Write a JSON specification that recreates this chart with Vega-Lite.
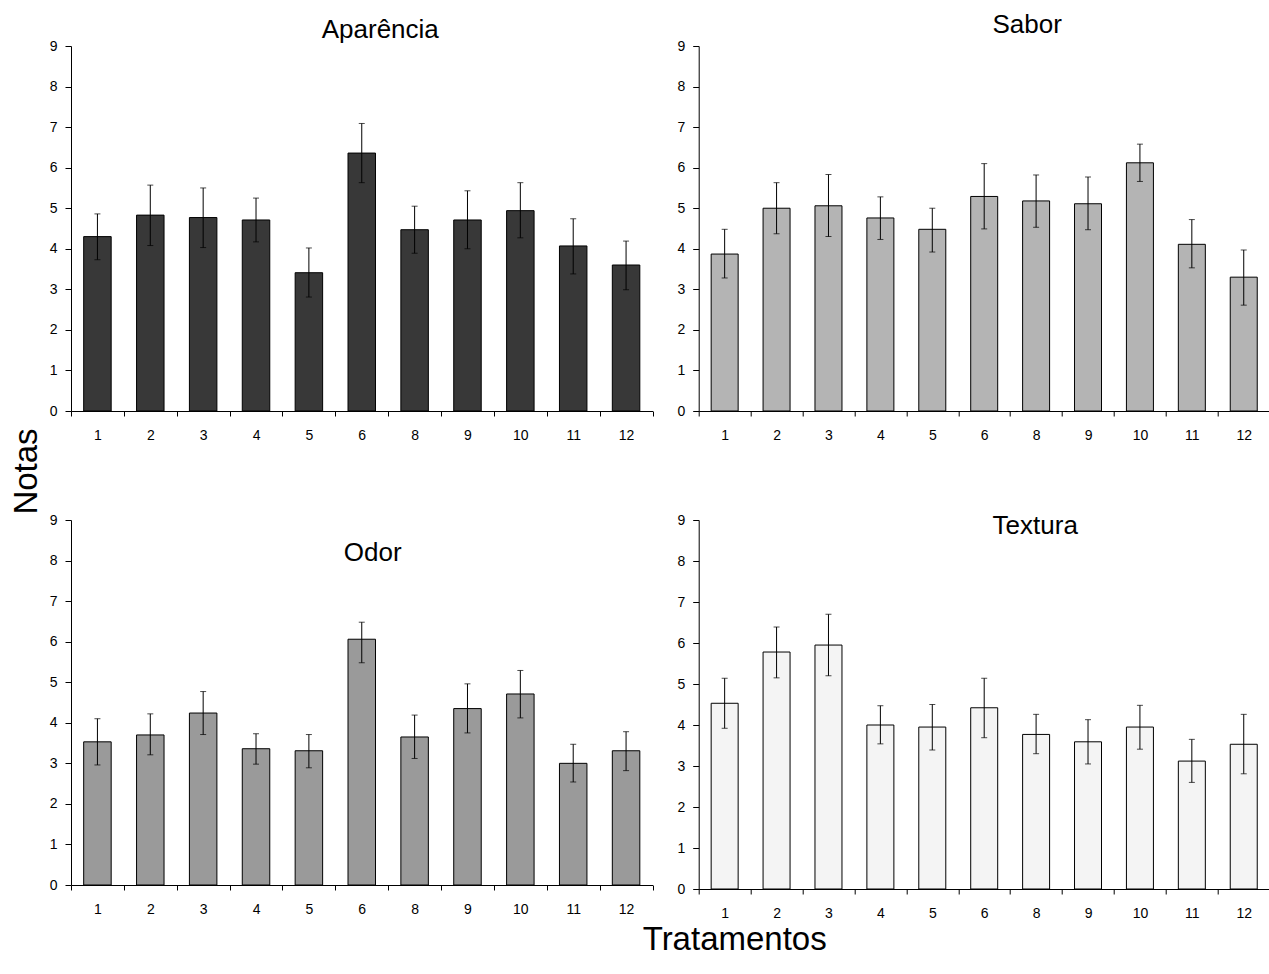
{
  "$schema": "https://vega.github.io/schema/vega-lite/v6.json",
  "padding": {"left": 10, "top": 12, "right": 0, "bottom": 0},
  "background": "white",
  "config": {
    "font": "Liberation Sans",
    "view": {"stroke": null},
    "axis": {"labelFontSize": 14, "labelColor": "black", "domainColor": "black", "tickColor": "black", "grid": false, "labelFont": "Liberation Sans"},
    "title": {"font": "Liberation Sans"}
  },
  "data": {"values": [
    {"attr": "Aparência", "trat": 1, "nota": 4.30, "lo": 3.73, "hi": 4.86},
    {"attr": "Aparência", "trat": 2, "nota": 4.83, "lo": 4.08, "hi": 5.57},
    {"attr": "Aparência", "trat": 3, "nota": 4.77, "lo": 4.03, "hi": 5.50},
    {"attr": "Aparência", "trat": 4, "nota": 4.71, "lo": 4.17, "hi": 5.25},
    {"attr": "Aparência", "trat": 5, "nota": 3.41, "lo": 2.81, "hi": 4.02},
    {"attr": "Aparência", "trat": 6, "nota": 6.36, "lo": 5.63, "hi": 7.09},
    {"attr": "Aparência", "trat": 8, "nota": 4.47, "lo": 3.89, "hi": 5.05},
    {"attr": "Aparência", "trat": 9, "nota": 4.71, "lo": 4.00, "hi": 5.43},
    {"attr": "Aparência", "trat": 10, "nota": 4.94, "lo": 4.27, "hi": 5.63},
    {"attr": "Aparência", "trat": 11, "nota": 4.07, "lo": 3.38, "hi": 4.74},
    {"attr": "Aparência", "trat": 12, "nota": 3.60, "lo": 2.99, "hi": 4.19},
    {"attr": "Sabor", "trat": 1, "nota": 3.87, "lo": 3.28, "hi": 4.48},
    {"attr": "Sabor", "trat": 2, "nota": 5.00, "lo": 4.37, "hi": 5.63},
    {"attr": "Sabor", "trat": 3, "nota": 5.06, "lo": 4.30, "hi": 5.83},
    {"attr": "Sabor", "trat": 4, "nota": 4.76, "lo": 4.23, "hi": 5.28},
    {"attr": "Sabor", "trat": 5, "nota": 4.48, "lo": 3.92, "hi": 5.00},
    {"attr": "Sabor", "trat": 6, "nota": 5.29, "lo": 4.49, "hi": 6.10},
    {"attr": "Sabor", "trat": 8, "nota": 5.18, "lo": 4.53, "hi": 5.82},
    {"attr": "Sabor", "trat": 9, "nota": 5.11, "lo": 4.47, "hi": 5.77},
    {"attr": "Sabor", "trat": 10, "nota": 6.12, "lo": 5.66, "hi": 6.58},
    {"attr": "Sabor", "trat": 11, "nota": 4.11, "lo": 3.53, "hi": 4.72},
    {"attr": "Sabor", "trat": 12, "nota": 3.30, "lo": 2.61, "hi": 3.97},
    {"attr": "Odor", "trat": 1, "nota": 3.53, "lo": 2.96, "hi": 4.10},
    {"attr": "Odor", "trat": 2, "nota": 3.70, "lo": 3.21, "hi": 4.22},
    {"attr": "Odor", "trat": 3, "nota": 4.24, "lo": 3.71, "hi": 4.77},
    {"attr": "Odor", "trat": 4, "nota": 3.36, "lo": 2.98, "hi": 3.73},
    {"attr": "Odor", "trat": 5, "nota": 3.31, "lo": 2.89, "hi": 3.71},
    {"attr": "Odor", "trat": 6, "nota": 6.06, "lo": 5.48, "hi": 6.48},
    {"attr": "Odor", "trat": 8, "nota": 3.65, "lo": 3.12, "hi": 4.19},
    {"attr": "Odor", "trat": 9, "nota": 4.35, "lo": 3.75, "hi": 4.96},
    {"attr": "Odor", "trat": 10, "nota": 4.71, "lo": 4.12, "hi": 5.29},
    {"attr": "Odor", "trat": 11, "nota": 3.00, "lo": 2.54, "hi": 3.47},
    {"attr": "Odor", "trat": 12, "nota": 3.31, "lo": 2.82, "hi": 3.78},
    {"attr": "Textura", "trat": 1, "nota": 4.53, "lo": 3.92, "hi": 5.14},
    {"attr": "Textura", "trat": 2, "nota": 5.78, "lo": 5.15, "hi": 6.39},
    {"attr": "Textura", "trat": 3, "nota": 5.95, "lo": 5.20, "hi": 6.70},
    {"attr": "Textura", "trat": 4, "nota": 4.00, "lo": 3.54, "hi": 4.47},
    {"attr": "Textura", "trat": 5, "nota": 3.95, "lo": 3.39, "hi": 4.50},
    {"attr": "Textura", "trat": 6, "nota": 4.42, "lo": 3.69, "hi": 5.14},
    {"attr": "Textura", "trat": 8, "nota": 3.77, "lo": 3.30, "hi": 4.26},
    {"attr": "Textura", "trat": 9, "nota": 3.59, "lo": 3.05, "hi": 4.13},
    {"attr": "Textura", "trat": 10, "nota": 3.95, "lo": 3.41, "hi": 4.48},
    {"attr": "Textura", "trat": 11, "nota": 3.12, "lo": 2.60, "hi": 3.65},
    {"attr": "Textura", "trat": 12, "nota": 3.53, "lo": 2.81, "hi": 4.26}
  ]},
  "columns": 2,
  "bounds": "flush",
  "spacing": {"row": 109, "column": 45.7},
  "concat": [
    {
      "width": 581.5, "height": 365,
      "title": {"text": "Aparência", "fontSize": 26, "fontWeight": "normal", "baseline": "alphabetic", "offset": -24.5, "dx": 18.5, "anchor": "middle", "color": "black"},
      "transform": [{"filter": "datum.attr === 'Aparência'"}],
      "encoding": {
        "x": {"field": "trat", "type": "ordinal", "scale": {"paddingInner": 0, "paddingOuter": 0}, "axis": {"title": null, "labelAngle": 0, "tickBand": "extent", "tickSize": 5, "labelPadding": 12}}
      },
      "layer": [
        {"mark": {"type": "bar", "width": {"band": 0.52}, "fill": "#383838", "stroke": "black", "strokeWidth": 1},
         "encoding": {"y": {"field": "nota", "type": "quantitative", "scale": {"domain": [0, 9], "nice": false}, "axis": {"values": [0,1,2,3,4,5,6,7,8,9], "tickSize": 6, "labelPadding": 8, "title": "Notas", "titleFontSize": 33, "titleFontWeight": "normal", "titleColor": "black", "titleAngle": 270, "titleBaseline": "middle", "titleAlign": "center", "titleX": -44.5, "titleY": 425}}}},
        {"mark": {"type": "rule", "color": "black", "strokeWidth": 1}, "encoding": {"y": {"field": "lo", "type": "quantitative"}, "y2": {"field": "hi"}}},
        {"mark": {"type": "tick", "color": "black", "size": 6, "thickness": 1}, "encoding": {"y": {"field": "hi", "type": "quantitative"}}},
        {"mark": {"type": "tick", "color": "black", "size": 6, "thickness": 1}, "encoding": {"y": {"field": "lo", "type": "quantitative"}}}
      ]
    },
    {
      "width": 571, "height": 365,
      "title": {"text": "Sabor", "fontSize": 26, "fontWeight": "normal", "baseline": "alphabetic", "offset": -20, "dx": 43, "anchor": "middle", "color": "black"},
      "transform": [{"filter": "datum.attr === 'Sabor'"}],
      "encoding": {
        "x": {"field": "trat", "type": "ordinal", "scale": {"paddingInner": 0, "paddingOuter": 0}, "axis": {"title": null, "labelAngle": 0, "tickBand": "extent", "tickSize": 5, "labelPadding": 12}}
      },
      "layer": [
        {"mark": {"type": "bar", "width": {"band": 0.52}, "fill": "#b4b4b4", "stroke": "black", "strokeWidth": 1},
         "encoding": {"y": {"field": "nota", "type": "quantitative", "scale": {"domain": [0, 9], "nice": false}, "axis": {"values": [0,1,2,3,4,5,6,7,8,9], "tickSize": 6, "labelPadding": 8, "title": null}}}},
        {"mark": {"type": "rule", "color": "black", "strokeWidth": 1}, "encoding": {"y": {"field": "lo", "type": "quantitative"}, "y2": {"field": "hi"}}},
        {"mark": {"type": "tick", "color": "black", "size": 6, "thickness": 1}, "encoding": {"y": {"field": "hi", "type": "quantitative"}}},
        {"mark": {"type": "tick", "color": "black", "size": 6, "thickness": 1}, "encoding": {"y": {"field": "lo", "type": "quantitative"}}}
      ]
    },
    {
      "width": 581.5, "height": 365,
      "title": {"text": "Odor", "fontSize": 26, "fontWeight": "normal", "baseline": "alphabetic", "offset": -74, "dx": 11, "anchor": "middle", "color": "black"},
      "transform": [{"filter": "datum.attr === 'Odor'"}],
      "encoding": {
        "x": {"field": "trat", "type": "ordinal", "scale": {"paddingInner": 0, "paddingOuter": 0}, "axis": {"title": null, "labelAngle": 0, "tickBand": "extent", "tickSize": 5, "labelPadding": 12}}
      },
      "layer": [
        {"mark": {"type": "bar", "width": {"band": 0.52}, "fill": "#9a9a9a", "stroke": "black", "strokeWidth": 1},
         "encoding": {"y": {"field": "nota", "type": "quantitative", "scale": {"domain": [0, 9], "nice": false}, "axis": {"values": [0,1,2,3,4,5,6,7,8,9], "tickSize": 6, "labelPadding": 8, "title": null}}}},
        {"mark": {"type": "rule", "color": "black", "strokeWidth": 1}, "encoding": {"y": {"field": "lo", "type": "quantitative"}, "y2": {"field": "hi"}}},
        {"mark": {"type": "tick", "color": "black", "size": 6, "thickness": 1}, "encoding": {"y": {"field": "hi", "type": "quantitative"}}},
        {"mark": {"type": "tick", "color": "black", "size": 6, "thickness": 1}, "encoding": {"y": {"field": "lo", "type": "quantitative"}}}
      ]
    },
    {
      "width": 571, "height": 369,
      "title": {"text": "Textura", "fontSize": 26, "fontWeight": "normal", "baseline": "alphabetic", "offset": -47, "dx": 51, "anchor": "middle", "color": "black"},
      "transform": [{"filter": "datum.attr === 'Textura'"}],
      "encoding": {
        "x": {"field": "trat", "type": "ordinal", "scale": {"paddingInner": 0, "paddingOuter": 0}, "axis": {"labelAngle": 0, "tickBand": "extent", "tickSize": 5, "labelPadding": 12, "title": "Tratamentos", "titleFontSize": 33, "titleFontWeight": "normal", "titleColor": "black", "titleBaseline": "alphabetic", "titleAlign": "center", "titleX": 35.5, "titleY": 60}}
      },
      "layer": [
        {"mark": {"type": "bar", "width": {"band": 0.52}, "fill": "#f4f4f4", "stroke": "black", "strokeWidth": 1},
         "encoding": {"y": {"field": "nota", "type": "quantitative", "scale": {"domain": [0, 9], "nice": false}, "axis": {"values": [0,1,2,3,4,5,6,7,8,9], "tickSize": 6, "labelPadding": 8, "title": null}}}},
        {"mark": {"type": "rule", "color": "black", "strokeWidth": 1}, "encoding": {"y": {"field": "lo", "type": "quantitative"}, "y2": {"field": "hi"}}},
        {"mark": {"type": "tick", "color": "black", "size": 6, "thickness": 1}, "encoding": {"y": {"field": "hi", "type": "quantitative"}}},
        {"mark": {"type": "tick", "color": "black", "size": 6, "thickness": 1}, "encoding": {"y": {"field": "lo", "type": "quantitative"}}}
      ]
    }
  ]
}
